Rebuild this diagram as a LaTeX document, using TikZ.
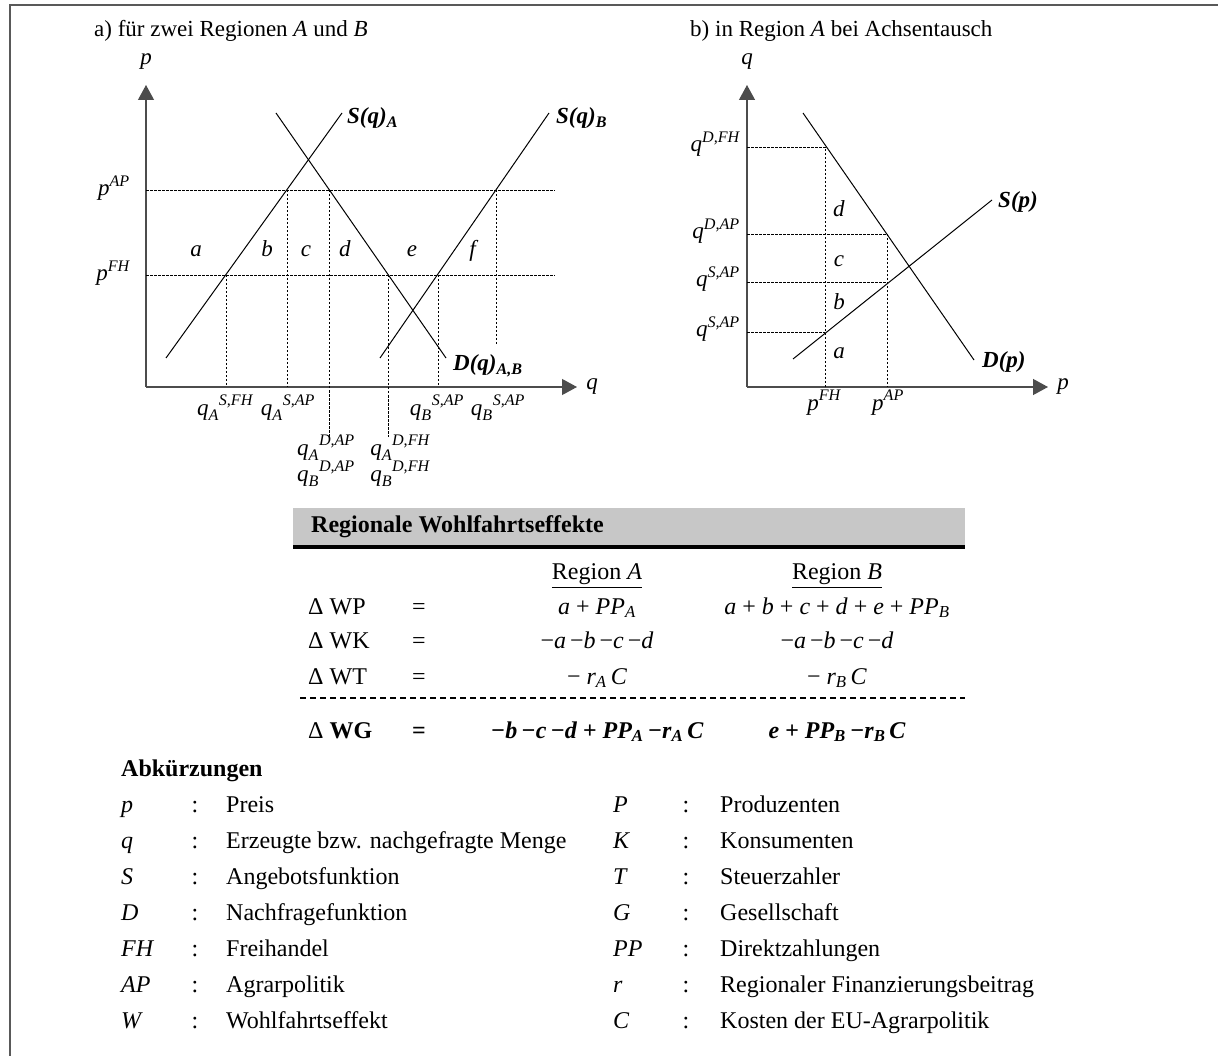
\documentclass[tikz,border=0pt]{standalone}
\usepackage{amsmath}
\usepackage{fontspec}
\setmainfont{Liberation Serif}
\usetikzlibrary{arrows.meta}

\newcommand{\qsub}[3]{${\textit{#1}_{\textit{#2}}}^{\textit{#3}}$}
\newcommand{\vsup}[2]{\textit{#1}$^{\textit{#2}}$}
\newcommand{\bsub}[2]{\textit{#1}\textsubscript{\textit{#2}}}

\begin{document}
\begin{tikzpicture}[x=1pt,y=-1pt,
  every node/.style={font=\fontsize{23}{27}\selectfont, inner sep=1pt},
  axis/.style={draw=black!70, line width=1.2pt, -{Triangle[length=15pt,width=16pt]}},
  curve/.style={draw=black, line width=1pt},
  guide/.style={draw=black, line width=0.8pt, dash pattern=on 2.5pt off 1.5pt},
  bolditem/.style={font=\fontsize{23}{27}\selectfont\bfseries\itshape},
  tabtext/.style={font=\fontsize{24}{28}\selectfont},
  tabbold/.style={font=\fontsize{24}{28}\selectfont\bfseries\itshape}]
\useasboundingbox (0,0) rectangle (1218,1056);
\draw[black!65, line width=2pt] (1218,5) -- (10,5) -- (10,1056);

% a) zwei Regionen
\node[anchor=base west] (titA) at (93,37) {a) für zwei Regionen \textit{A} und \textit{B}};
\coordinate (oA) at (146,387);
\coordinate (yA) at (146,85);
\coordinate (xA) at (577,387);
\draw[axis] (oA) -- (yA);
\draw[axis] (oA) -- (xA);
\node (pA) at (146,62) {\textit{p}};
\node (qA) at (592,387) {\textit{q}};

\draw[guide] (146,190) coordinate (ap0) -- (555,190) coordinate (ap1);
\draw[guide] (146,275) coordinate (fh0) -- (555,275) coordinate (fh1);
\node[anchor=base east] (pAP) at (131,196) {\vsup{p}{AP}};
\node[anchor=base east] (pFH) at (131,281) {\vsup{p}{FH}};

\coordinate (sa0) at (166,358);
\coordinate (sa1) at (342,113);
\coordinate (dd0) at (276,113);
\coordinate (dd1) at (446,358);
\coordinate (sb0) at (380,358);
\coordinate (sb1) at (549,113);
\draw[curve] (sa0) -- (sa1);
\draw[curve] (dd0) -- (dd1);
\draw[curve] (sb0) -- (sb1);
\node[bolditem, anchor=west] (SA) at (346,118) {S(q)\textsubscript{A}};
\node[bolditem, anchor=west] (SB) at (555,118) {S(q)\textsubscript{B}};
\node[bolditem, anchor=west] (DAB) at (452,366) {D(q)\textsubscript{A,B}};

\foreach \x/\t/\b in {226/275/387, 287/190/387, 329/190/437, 388/275/437, 438/275/387, 496/190/345}
  \draw[guide] (\x,\t) -- (\x,\b);

\foreach \x/\l in {196/a, 267/b, 306/c, 345/d, 412/e, 474/f}
  \node[anchor=base] (ar\l) at (\x,257) {\textit{\l}};

\node[anchor=base] (qASFH) at (225,415) {\qsub{q}{A}{S,FH}};
\node[anchor=base] (qASAP) at (288,415) {\qsub{q}{A}{S,AP}};
\node[anchor=base] (qBSFH) at (437,415) {\qsub{q}{B}{S,AP}};
\node[anchor=base] (qBSAP) at (498,415) {\qsub{q}{B}{S,AP}};
\node[anchor=base] (qADAP) at (326,455) {\qsub{q}{A}{D,AP}};
\node[anchor=base] (qADFH) at (400,455) {\qsub{q}{A}{D,FH}};
\node[anchor=base] (qBDAP) at (326,481) {\qsub{q}{B}{D,AP}};
\node[anchor=base] (qBDFH) at (400,481) {\qsub{q}{B}{D,FH}};

% b) Achsentausch
\node[anchor=base west] (titB) at (689,37) {b) in Region \textit{A} bei Achsentausch};
\coordinate (oB) at (747,387);
\coordinate (yB) at (747,85);
\coordinate (xB) at (1048,387);
\draw[axis] (oB) -- (yB);
\draw[axis] (oB) -- (xB);
\node (qB) at (747,62) {\textit{q}};
\node (pB) at (1063,387) {\textit{p}};

\coordinate (db0) at (803,113);
\coordinate (db1) at (974,360);
\coordinate (ss0) at (793,359);
\coordinate (ss1) at (992,200);
\draw[curve] (db0) -- (db1);
\draw[curve] (ss0) -- (ss1);
\node[bolditem, anchor=west] (Sp) at (997,202) {S(p)};
\node[bolditem, anchor=west] (Dp) at (981,362) {D(p)};

\draw[guide] (747,147) -- (825,147) -- (825,387);
\draw[guide] (747,234) -- (887,234) -- (887,387);
\draw[guide] (747,282) -- (887,282);
\draw[guide] (747,332) -- (825,332);
\node[anchor=base east] (qDFH) at (741,152) {\vsup{q}{D,FH}};
\node[anchor=base east] (qDAP) at (741,239) {\vsup{q}{D,AP}};
\node[anchor=base east] (qSAP) at (741,287) {\vsup{q}{S,AP}};
\node[anchor=base east] (qSFH) at (741,337) {\vsup{q}{S,AP}};
\foreach \y/\l in {217/d, 267/c, 310/b, 359/a}
  \node[anchor=base] (br\l) at (839,\y) {\textit{\l}};
\node[anchor=base] (pFHb) at (824,410) {\vsup{p}{FH}};
\node[anchor=base] (pAPb) at (888,410) {\vsup{p}{AP}};

% Wohlfahrtseffekte
\fill[black!22] (293,508) rectangle (965,545);
\node[anchor=west, font=\fontsize{24}{28}\selectfont\bfseries] (hdr) at (310,527) {Regionale Wohlfahrtseffekte};
\draw[line width=3.5pt] (293,547) -- (965,547);
\node[anchor=base, tabtext] (rgA) at (597,579) {\underline{Region \textit{A}}};
\node[anchor=base, tabtext] (rgB) at (837,579) {\underline{Region \textit{B}}};
\foreach \y/\w/\ca/\cb in {
  614/WP/{\textit{a} + \bsub{PP}{A}}/{\textit{a} + \textit{b} + \textit{c} + \textit{d} + \textit{e} + \bsub{PP}{B}},
  648/WK/{−\textit{a}\,−\textit{b}\,−\textit{c}\,−\textit{d}}/{−\textit{a}\,−\textit{b}\,−\textit{c}\,−\textit{d}},
  684/WT/{− \bsub{r}{A}\,\textit{C}}/{− \bsub{r}{B}\,\textit{C}}}
{
  \node[anchor=base west, tabtext] (w\w) at (307,\y) {Δ \w};
  \node[anchor=base, tabtext] (eq\w) at (419,\y) {=};
  \node[anchor=base, tabtext] (a\w) at (597,\y) {\ca};
  \node[anchor=base, tabtext] (b\w) at (837,\y) {\cb};
}
\draw[line width=1.6pt, dash pattern=on 6pt off 4pt] (300,698) -- (965,698);
\node[anchor=base west, tabtext] (wWG) at (307,738) {Δ \textbf{WG}};
\node[anchor=base, tabtext] (eqWG) at (419,738) {\textbf{=}};
\node[anchor=base, tabbold] (aWG) at (597,738) {−\textit{b}\,−\textit{c}\,−\textit{d} + \bsub{PP}{A}\,−\bsub{r}{A}\,\textit{C}};
\node[anchor=base, tabbold] (bWG) at (837,738) {\textit{e} + \bsub{PP}{B}\,−\bsub{r}{B}\,\textit{C}};

% Abkuerzungen
\node[anchor=base west, font=\fontsize{24}{28}\selectfont\bfseries] (abk) at (120,776) {Abkürzungen};
\foreach \s/\t [count=\i] in {p/Preis, q/Erzeugte bzw. nachgefragte Menge, S/Angebotsfunktion, D/Nachfragefunktion, FH/Freihandel, AP/Agrarpolitik, W/Wohlfahrtseffekt}
{
  \node[anchor=base west, tabtext] (ls\i) at (120,776+36*\i) {\textit{\s}};
  \node[anchor=base, tabtext] (lc\i) at (195,776+36*\i) {:};
  \node[anchor=base west, tabtext] (lt\i) at (225,776+36*\i) {\t};
}
\foreach \s/\t [count=\i] in {P/Produzenten, K/Konsumenten, T/Steuerzahler, G/Gesellschaft, PP/Direktzahlungen, r/Regionaler Finanzierungsbeitrag, C/Kosten der EU-Agrarpolitik}
{
  \node[anchor=base west, tabtext] (rs\i) at (612,776+36*\i) {\textit{\s}};
  \node[anchor=base, tabtext] (rc\i) at (686,776+36*\i) {:};
  \node[anchor=base west, tabtext] (rt\i) at (719,776+36*\i) {\t};
}
\end{tikzpicture}
\end{document}
